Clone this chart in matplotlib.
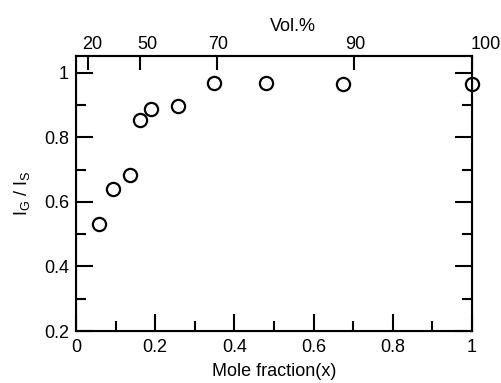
import matplotlib
matplotlib.use("Agg")
import matplotlib.pyplot as plt
from matplotlib.ticker import MultipleLocator
import matplotlib.transforms as mtransforms

# Data
mole_fraction = [0.058, 0.093, 0.136, 0.162, 0.189, 0.258, 0.349, 0.479, 0.673, 0.999]
ig_is = [0.531, 0.640, 0.682, 0.853, 0.886, 0.898, 0.969, 0.969, 0.965, 0.965]
x_ticks = [0, 0.2, 0.4, 0.6, 0.8, 1]
x_tick_labels = ["0", "0.2", "0.4", "0.6", "0.8", "1"]
y_ticks = [0.2, 0.4, 0.6, 0.8, 1]
y_tick_labels = ["0.2", "0.4", "0.6", "0.8", "1"]
vol_positions = [0.031, 0.162, 0.356, 0.701, 1.0]
vol_labels = ["20", "50", "70", "90", "100"]

plt.rcParams["font.family"] = ["Liberation Sans", "DejaVu Sans"]
plt.rcParams["mathtext.fontset"] = "custom"
plt.rcParams["mathtext.rm"] = "Liberation Sans"
plt.rcParams["mathtext.it"] = "Liberation Sans"
FS = 13

fig = plt.figure(figsize=(5.02, 3.83), dpi=100)
ax = fig.add_axes([76 / 502, 1 - 331 / 383, 396 / 502, 275 / 383])

ax.plot(mole_fraction, ig_is, linestyle="none", marker="o", markersize=9.5,
        markerfacecolor="none", markeredgecolor="black", markeredgewidth=1.6,
        clip_on=False, zorder=5)

ax.set_xlim(0, 1)
ax.set_ylim(0.2, 0.2 + 275 / 323)
ax.set_xticks(x_ticks)
ax.set_xticklabels(x_tick_labels)
ax.set_yticks(y_ticks)
ax.set_yticklabels(y_tick_labels)
ax.xaxis.set_minor_locator(MultipleLocator(0.1))
ax.yaxis.set_minor_locator(MultipleLocator(0.1))

for s in ax.spines.values():
    s.set_linewidth(1.5)

ax.tick_params(axis="x", which="both", direction="in", top=False, bottom=True,
               labelsize=FS, width=1.5, pad=6)
ax.tick_params(axis="y", which="both", direction="in", left=True, right=True,
               labelsize=FS, width=1.5, pad=5)
ax.tick_params(which="major", length=12)
ax.tick_params(which="minor", length=7)

ax.set_xlabel("Mole fraction(x)", fontsize=FS)
ax.xaxis.set_label_coords(0.5, -0.115)
ax.set_ylabel(r"I$_\mathrm{G}$ / I$_\mathrm{S}$", fontsize=FS)
ax.yaxis.set_label_coords(-0.11, 0.5)

# Top axis (Vol.%)
top = ax.twiny()
top.set_xlim(ax.get_xlim())
top.set_xticks(vol_positions)
top.set_xticklabels(vol_labels)
top.tick_params(axis="x", direction="in", length=10, width=1.5, labelsize=FS, pad=2)
top.spines["top"].set_linewidth(1.5)
top.set_xlabel("Vol.%", fontsize=FS)
top.xaxis.set_label_coords(0.547, 1.09)

offsets_px = [4, 7, 1, 2, 14]
for lab, dx in zip(top.get_xticklabels(), offsets_px):
    lab.set_transform(lab.get_transform() +
                      mtransforms.ScaledTranslation(dx / 100, 0, fig.dpi_scale_trans))

fig.savefig("out.png", dpi=100)
